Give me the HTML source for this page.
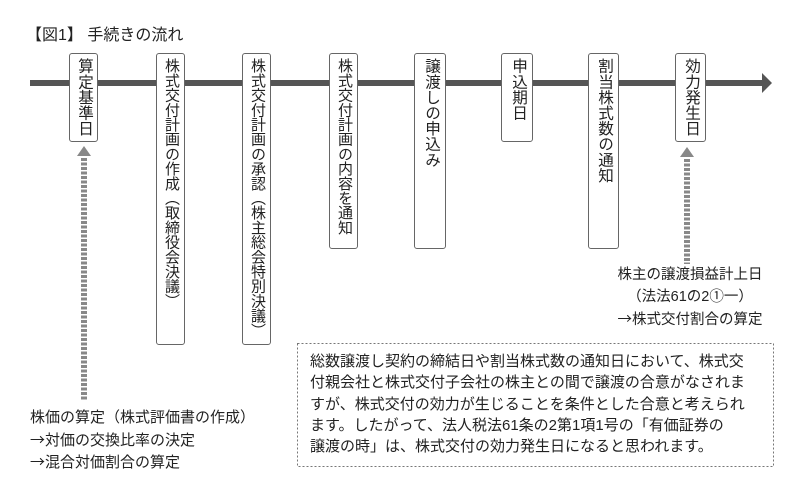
<!DOCTYPE html>
<html><head><meta charset="utf-8"><style>
body{margin:0;width:800px;height:483px;background:#fff;position:relative;overflow:hidden;font-family:"Liberation Sans","Noto Sans CJK JP",sans-serif;color:#222}
.t{position:absolute;white-space:nowrap}
.box{position:absolute;top:53px;width:29px;border:1px solid #666;border-radius:3px;background:#fff;box-sizing:border-box}
.box span{position:absolute;left:6px;top:4px;height:300px;white-space:nowrap;writing-mode:vertical-rl;font-size:15.6px;line-height:16px;letter-spacing:0}
.box span.s{font-size:15px;letter-spacing:-0.3px}
.box i{font-style:normal;letter-spacing:-3px}
.a{font-family:"Noto Sans CJK JP",sans-serif}
</style></head><body>
<div class="t" style="left:26px;top:21px;font-size:16px">【図1】 手続きの流れ</div>
<svg width="800" height="483" style="position:absolute;left:0;top:0">
<rect x="30" y="80" width="735" height="6" fill="#555"/>
<polygon points="762,73 772,83 762,93" fill="#555"/>
<polygon points="84,146 77,156 91,156" fill="#888"/>
<line x1="84" y1="158" x2="84" y2="401" stroke="#888" stroke-width="6" stroke-dasharray="3,1.5"/>
<polygon points="687,147 680,157 694,157" fill="#888"/>
<line x1="687" y1="159" x2="687" y2="264" stroke="#888" stroke-width="6" stroke-dasharray="3,1.5"/>
<rect x="297.5" y="343.5" width="476" height="123" fill="none" stroke="#777" stroke-dasharray="2,2"/>
</svg>
<div class="box" style="left:69px;height:89px"><span>算定基準日</span></div>
<div class="box" style="left:156px;height:292px"><span class="s">株式交付計画の作成（取締役会決議）</span></div>
<div class="box" style="left:242px;height:292px"><span class="s">株式交付計画の承認（株主総会特別決議）</span></div>
<div class="box" style="left:329px;height:196px"><span class="s">株式交付計画の内容を通知</span></div>
<div class="box" style="left:414px;height:196px;width:32px"><span style="left:8px">譲渡しの申込み</span></div>
<div class="box" style="left:501px;height:89px;width:32px"><span style="left:8px">申込期日</span></div>
<div class="box" style="left:588px;height:196px;width:31px"><span style="left:7px">割当株式数の通知</span></div>
<div class="box" style="left:675px;height:89px;width:31px"><span style="left:7px">効力発生日</span></div>
<div class="t" style="left:600px;top:265px;width:180px;text-align:center;font-size:14.5px;line-height:21.5px">株主の譲渡損益計上日<br>（法法61の2①一）<br><span class="a">→</span>株式交付割合の算定</div>
<div class="t" style="left:30px;top:407px;font-size:15px;line-height:21.5px">株価の算定（株式評価書の作成）<br><span class="a">→</span>対価の交換比率の決定<br><span class="a">→</span>混合対価割合の算定</div>
<div class="t" style="left:310px;top:351px;font-size:15px;line-height:21.3px">総数譲渡し契約の締結日や割当株式数の通知日において、株式交<br>付親会社と株式交付子会社の株主との間で譲渡の合意がなされま<br>すが、株式交付の効力が生じることを条件とした合意と考えられ<br>ます。したがって、法人税法61条の2第1項1号の「有価証券の<br>譲渡の時」は、株式交付の効力発生日になると思われます。</div>
</body></html>
